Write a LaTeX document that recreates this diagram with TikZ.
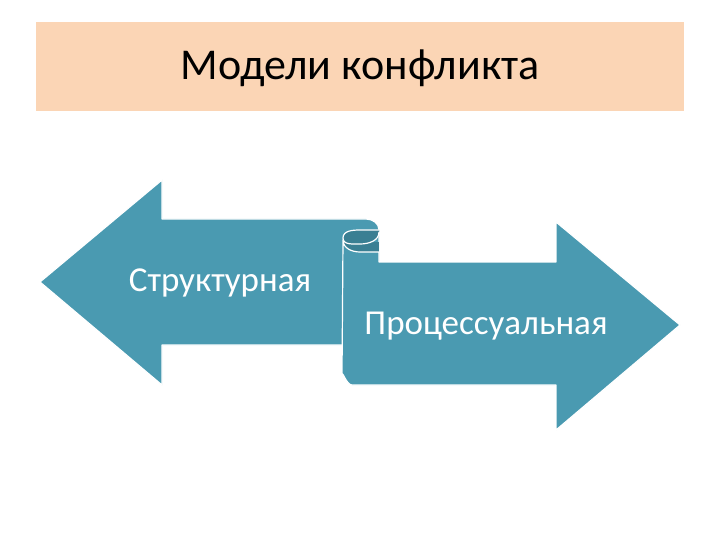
\documentclass[tikz,border=0pt]{standalone}
\usepackage{fontspec}
\setmainfont{Carlito}
\definecolor{hdr}{HTML}{FBD5B5}
\definecolor{teal}{HTML}{4A9AB1}
\definecolor{tealdark}{HTML}{3A7F93}
\begin{document}
\begin{tikzpicture}[x=1pt,y=-1pt,
  lbl/.style={text=white,font=\fontsize{35}{40}\selectfont},
  arr/.style={fill=teal,draw=white,line width=1.2pt,line join=round}]
\useasboundingbox (0,0) rectangle (720,540);
\fill[white] (0,0) rectangle (720,540);
\node[fill=hdr,minimum width=648pt,minimum height=89pt,inner sep=0pt] (hdr) at (360,66.5) {};
\node[font=\fontsize{44}{50}\selectfont] (title) at (360,68) {Модели конфликта};
% left arrow
\draw[arr] (40,282) -- (162,180) -- (162,219) -- (366,219)
  to[out=0,in=90] (379,230) -- (379,345) -- (162,345) -- (162,385) -- cycle;
% scroll back
\fill[tealdark] (343,242) rectangle (379,262);
\draw[fill=tealdark,draw=white,line width=1.2pt] (379,232) to[out=-90,in=0] (360,244) to[out=180,in=-90] (343,238) to[out=90,in=180] (360,230) -- (379,230);
% right arrow
\draw[arr] (343,240) to[out=-90,in=180] (360,252) -- (379,252) -- (379,262) -- (556,262) -- (556,222) -- (680,325)
  -- (556,430) -- (556,385) -- (352,385) to[out=180,in=90] (342,375) -- cycle;
\node[lbl] (s) at (220,283) {Структурная};
\node[lbl] (p) at (486,326) {Процессуальная};
\end{tikzpicture}
\end{document}
